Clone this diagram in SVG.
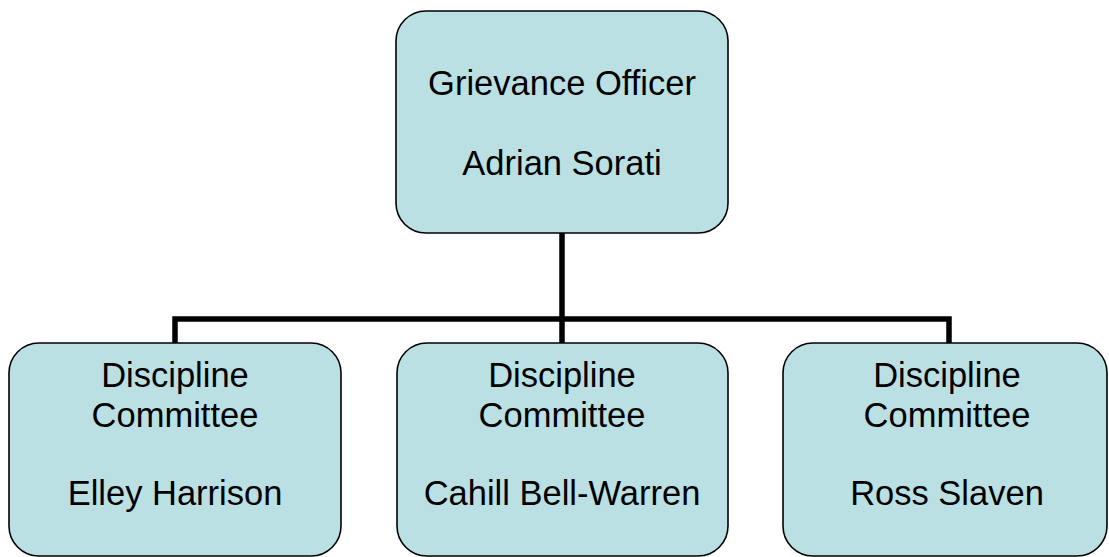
<svg xmlns="http://www.w3.org/2000/svg" width="1109" height="557" viewBox="0 0 1109 557">
<style>
.box{fill:#BBE0E3;stroke:#000;stroke-width:1.6}
.t{font-family:"Liberation Sans",Arial,sans-serif;font-size:34.5px;fill:#000;text-anchor:middle}
.c{fill:none;stroke:#000;stroke-width:5.5;stroke-linecap:butt;stroke-linejoin:miter}
</style>
<rect width="1109" height="557" fill="#fff"/>
<g id="connectors">
<path class="c" d="M562 233V343"/>
<path class="c" d="M175 343V319H949V343"/>
</g>
<g id="node-grievance">
<rect class="box" x="396" y="11" width="332" height="222" rx="30" ry="30"/>
<text class="t" x="562" y="95">Grievance Officer</text>
<text class="t" x="562" y="175">Adrian Sorati</text>
</g>
<g id="node-elley">
<rect class="box" x="9" y="343" width="332" height="213" rx="30" ry="30"/>
<text class="t" x="175" y="387">Discipline</text>
<text class="t" x="175" y="427">Committee</text>
<text class="t" x="175" y="505">Elley Harrison</text>
</g>
<g id="node-cahill">
<rect class="box" x="397" y="343" width="331" height="213" rx="30" ry="30"/>
<text class="t" x="562" y="387">Discipline</text>
<text class="t" x="562" y="427">Committee</text>
<text class="t" x="562" y="505">Cahill Bell-Warren</text>
</g>
<g id="node-ross">
<rect class="box" x="783" y="343" width="324" height="213" rx="30" ry="30"/>
<text class="t" x="947" y="387">Discipline</text>
<text class="t" x="947" y="427">Committee</text>
<text class="t" x="947" y="505">Ross Slaven</text>
</g>
</svg>
